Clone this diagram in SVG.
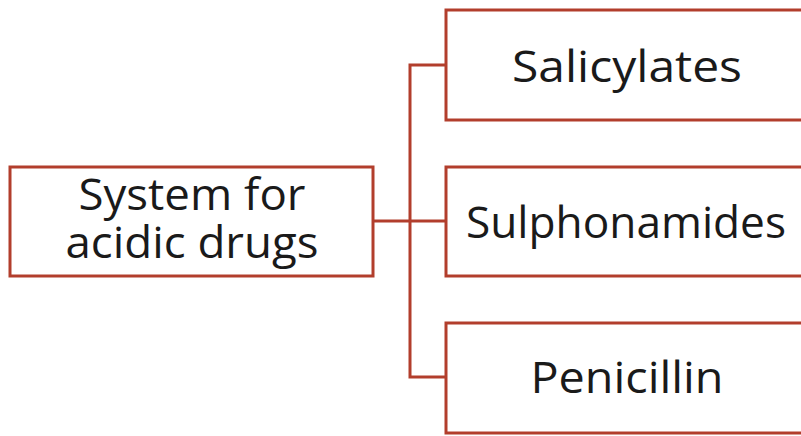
<svg xmlns="http://www.w3.org/2000/svg" width="801" height="436" viewBox="0 0 801 436">
<style>
.box{fill:#fff;stroke:#b23e2c;stroke-width:3}
.conn{fill:none;stroke:#b23e2c;stroke-width:3}
.lbl{font-family:"Open Sans","DejaVu Sans",sans-serif;font-size:43px;fill:#1a1a1a;text-anchor:middle}
</style>
<rect width="801" height="436" fill="#fff"/>
<g id="connectors">
<path class="conn" d="M373 221 H410" stroke-width="4"/>
<path class="conn" d="M446 65 H410 V377 H446"/>
<path class="conn" d="M410 221 H446"/>
</g>
<g id="root">
<rect class="box" x="10" y="167" width="363" height="109"/>
<text class="lbl" x="192" y="210" textLength="227" lengthAdjust="spacingAndGlyphs">System for</text>
<text class="lbl" x="192" y="258" textLength="253" lengthAdjust="spacingAndGlyphs">acidic drugs</text>
</g>
<g id="salicylates">
<rect class="box" x="446" y="10" width="370" height="110"/>
<text class="lbl" x="627" y="82" textLength="230" lengthAdjust="spacingAndGlyphs">Salicylates</text>
</g>
<g id="sulphonamides">
<rect class="box" x="446" y="167" width="370" height="109"/>
<text class="lbl" x="626" y="238" textLength="320" lengthAdjust="spacingAndGlyphs">Sulphonamides</text>
</g>
<g id="penicillin">
<rect class="box" x="446" y="323" width="370" height="110"/>
<text class="lbl" x="627" y="393" textLength="193" lengthAdjust="spacingAndGlyphs">Penicillin</text>
</g>
</svg>
